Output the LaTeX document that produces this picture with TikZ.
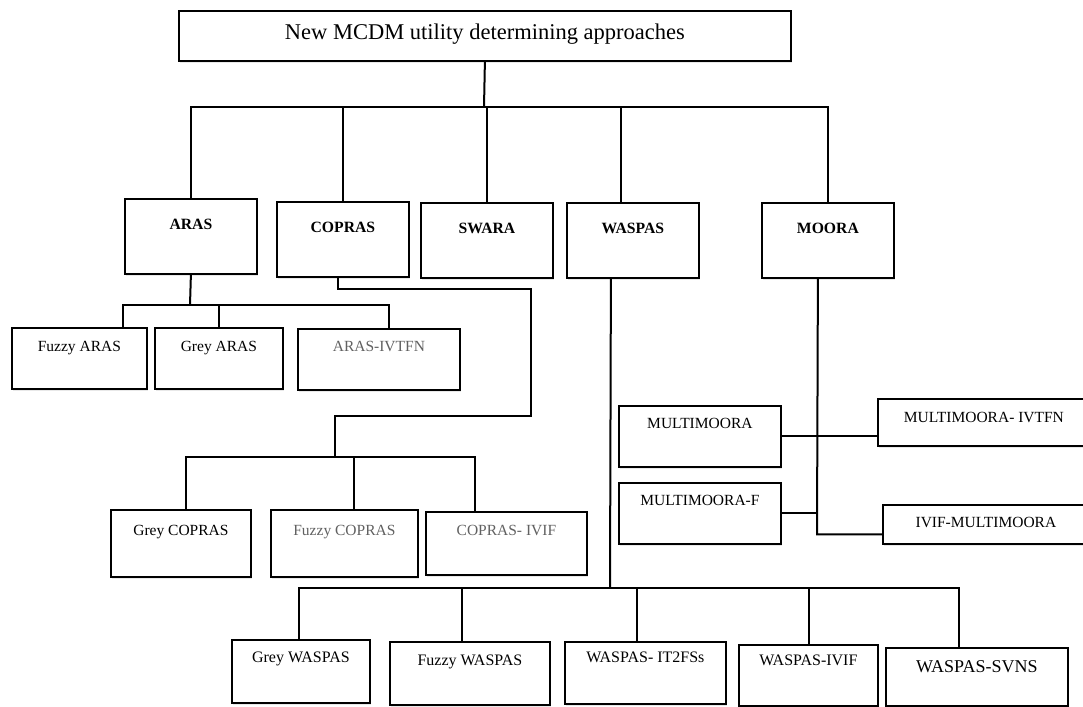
\documentclass[tikz,border=0pt]{standalone}
\usepackage{fontspec}
\setmainfont{Liberation Serif}
\usetikzlibrary{shadows}

\tikzset{
  box/.style={draw, line width=1.8pt, fill=white, inner xsep=0pt, inner ysep=0pt,
    anchor=north west, font=\fontsize{15.5}{18}\selectfont,
    drop shadow={opacity=0.18, shadow xshift=1.2pt, shadow yshift=-2.2pt}},
  mainbox/.style={box, font=\fontsize{15.7}{18}\selectfont\bfseries,
    minimum width=132, text height=31, text depth=44},
  lowbox/.style={box, font=\fontsize{16}{19}\selectfont},
  greytxt/.style={text=black!62},
  link/.style={line width=2pt}
}

\begin{document}
\begin{tikzpicture}[x=1pt, y=-1pt]
    \useasboundingbox (0,0) rectangle (1083,706);

        % root
        \node[box, minimum width=612, text height=29, text depth=21,
          font=\fontsize{22.5}{26}\selectfont] (root) at (178,10) {New MCDM utility determining approaches};

        % first level
        \node[mainbox] (aras) at (124,198) {ARAS};
        \node[mainbox] (copras) at (276,201) {COPRAS};
        \node[mainbox] (swara) at (420,202) {SWARA};
        \node[mainbox] (waspas) at (566,202) {WASPAS};
        \node[mainbox] (moora) at (761,202) {MOORA};

        % ARAS family
        \node[box, minimum width=135, text height=24, text depth=37] (fuzzyaras) at (11,327) {Fuzzy ARAS};
        \node[box, minimum width=128, text height=24, text depth=37] (greyaras) at (154,327) {Grey ARAS};
        \node[box, greytxt, minimum width=162, text height=23, text depth=38] (arasivtfn) at (297,328) {ARAS-IVTFN};

        % COPRAS family
        \node[box, minimum width=140, text height=26, text depth=41] (greycopras) at (110,509) {Grey COPRAS};
        \node[box, greytxt, minimum width=147, text height=26, text depth=41] (fuzzycopras) at (270,509) {Fuzzy COPRAS};
        \node[box, greytxt, minimum width=161, text height=24, text depth=39] (coprasivif) at (425,511) {COPRAS- IVIF};

        % MOORA family
        \node[box, minimum width=162, text height=23, text depth=38] (multimoora) at (618,405) {MULTIMOORA};
        \node[box, minimum width=162, text height=23, text depth=38] (multimooraf) at (618,482) {MULTIMOORA-F};
        \node[box, minimum width=212, text height=24, text depth=23] (multiivtfn) at (877,398) {MULTIMOORA- IVTFN};
        \node[box, minimum width=206, text height=23, text depth=16] (ivifmulti) at (882,504) {IVIF-MULTIMOORA};

        % WASPAS family
        \node[lowbox, minimum width=138, text height=23, text depth=40] (greywaspas) at (231,639) {Grey WASPAS};
        \node[lowbox, minimum width=160, text height=24, text depth=39] (fuzzywaspas) at (389,641) {Fuzzy WASPAS};
        \node[lowbox, minimum width=161, text height=21, text depth=41] (waspasit) at (564,641) {WASPAS- IT2FSs};
        \node[lowbox, minimum width=139, text height=21, text depth=40] (waspasivif) at (738,644) {WASPAS-IVIF};
        \node[lowbox, minimum width=182, text height=25, text depth=33,
          font=\fontsize{18}{21}\selectfont] (waspassvns) at (885,647) {WASPAS-SVNS};

        % junctions
        \coordinate (rootbus) at (484,107);
        \coordinate (arasbus) at (190,305);
        \coordinate (c1) at (531,289);
        \coordinate (c2) at (335,416);
        \coordinate (coprasbus) at (335,457);
        \coordinate (waspasbus) at (610,588);
        \coordinate (mooratrunk) at (817,534);

        % root to first level
        \draw[link] (root.south) -- (rootbus);
        \foreach \n in {aras,copras,swara,moora}
          \draw[link] (\n.north) |- (rootbus);
        \draw[link] ([xshift=-12pt]waspas.north) |- (rootbus);

        % ARAS
        \draw[link] (aras.south) -- (arasbus);
        \draw[link] ([xshift=44pt]fuzzyaras.north) |- (arasbus);
        \draw[link] (greyaras.north) |- (arasbus);
        \draw[link] ([xshift=10pt]arasivtfn.north) |- (arasbus);

        % COPRAS
        \draw[link] ([xshift=-5pt]copras.south) |- (c1) |- (c2) -- (coprasbus);
        \draw[link] ([xshift=5pt]greycopras.north) |- (coprasbus);
        \draw[link] ([xshift=10pt]fuzzycopras.north) |- (coprasbus);
        \draw[link] ([xshift=-31pt]coprasivif.north) |- (coprasbus);

        % WASPAS
        \draw[link] ([xshift=-22pt]waspas.south) -- (waspasbus);
        \draw[link] ([xshift=-2pt]greywaspas.north) |- (waspasbus);
        \draw[link] ([xshift=-8pt]fuzzywaspas.north) |- (waspasbus);
        \draw[link] ([xshift=-8pt]waspasit.north) |- (waspasbus);
        \draw[link] ([xshift=1pt]waspasivif.north) |- (waspasbus);
        \draw[link] ([xshift=-18pt]waspassvns.north) |- (waspasbus);

        % MOORA
        \draw[link] ([xshift=-10pt]moora.south) -- (mooratrunk) |- ([yshift=-10pt]ivifmulti.west);
        \draw[link] (multimoora.east) -- (multimoora.east -| multiivtfn.west);
        \draw[link] (multimooraf.east) -- (multimooraf.east -| mooratrunk);

\end{tikzpicture}
\end{document}
